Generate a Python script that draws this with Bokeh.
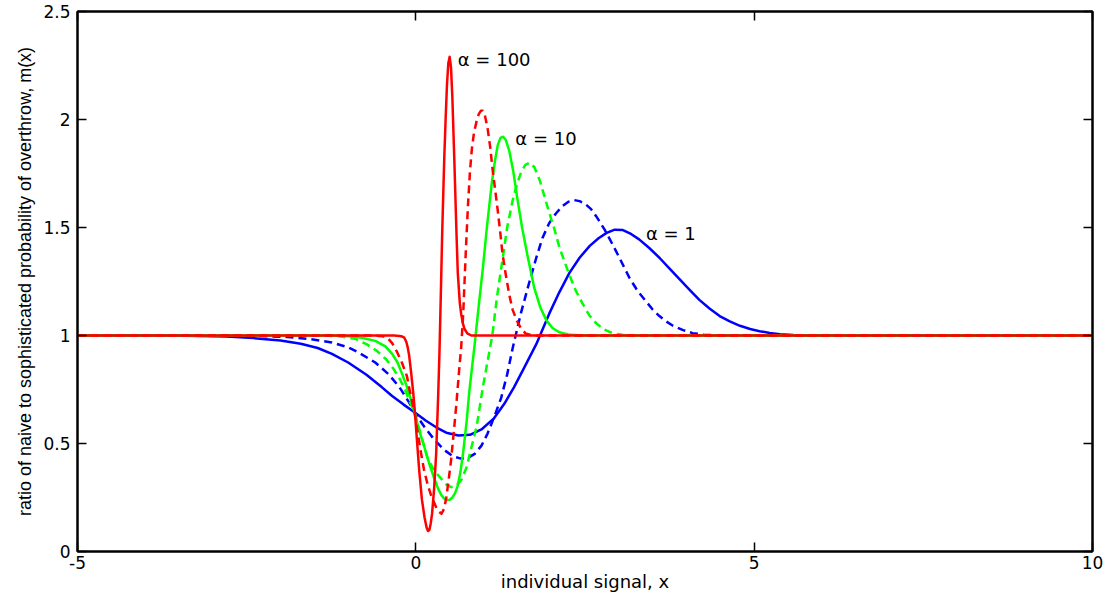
from bokeh.plotting import figure
from bokeh.models import LinearAxis, FixedTicker, PrintfTickFormatter, Label
from bokeh.embed import file_html
from bokeh.resources import INLINE

# ---- data ----
x_ticks = [-5, 0, 5, 10]
y_ticks = [0, 0.5, 1, 1.5, 2, 2.5]

# alpha = 1
a1_solid_x = [-5, -3.6, -3.2, -2.8, -2.4, -2.0, -1.7, -1.45, -1.24, -1.0, -0.73, -0.5, -0.35, -0.18, -0.02, 0.15, 0.3, 0.45, 0.63, 0.8, 0.97, 1.15, 1.31, 1.45, 1.6, 1.78, 1.97, 2.12, 2.27, 2.42, 2.57, 2.7, 2.82, 2.94, 3.06, 3.18, 3.3, 3.45, 3.6, 3.75, 3.9, 4.05, 4.19, 4.34, 4.49, 4.64, 4.79, 4.94, 5.08, 5.23, 5.38, 5.58, 5.78, 6.1, 10]
a1_solid_y = [1.0, 1.0, 0.998, 0.995, 0.988, 0.977, 0.962, 0.942, 0.915, 0.875, 0.818, 0.76, 0.72, 0.68, 0.645, 0.605, 0.575, 0.55, 0.537, 0.54, 0.565, 0.615, 0.685, 0.76, 0.85, 0.96, 1.10, 1.20, 1.29, 1.36, 1.415, 1.45, 1.475, 1.49, 1.488, 1.47, 1.445, 1.405, 1.36, 1.31, 1.26, 1.21, 1.165, 1.125, 1.09, 1.065, 1.045, 1.03, 1.02, 1.012, 1.006, 1.002, 1.0, 1.0, 1.0]
a1_dash_x = [-5, -2.6, -2.2, -1.9, -1.6, -1.24, -1.0, -0.84, -0.6, -0.4, -0.24, -0.1, -0.02, 0.13, 0.28, 0.42, 0.55, 0.67, 0.78, 0.87, 0.97, 1.06, 1.16, 1.26, 1.35, 1.43, 1.55, 1.68, 1.78, 1.87, 1.97, 2.07, 2.17, 2.26, 2.34, 2.42, 2.5, 2.59, 2.67, 2.79, 2.91, 3.0, 3.08, 3.16, 3.28, 3.41, 3.5, 3.6, 3.7, 3.8, 3.95, 4.09, 4.25, 4.45, 10]
a1_dash_y = [1.0, 1.0, 0.997, 0.993, 0.985, 0.968, 0.945, 0.92, 0.875, 0.82, 0.76, 0.69, 0.645, 0.575, 0.515, 0.47, 0.44, 0.43, 0.435, 0.452, 0.49, 0.546, 0.625, 0.71, 0.82, 0.94, 1.10, 1.25, 1.36, 1.45, 1.52, 1.565, 1.60, 1.62, 1.627, 1.622, 1.61, 1.585, 1.55, 1.49, 1.42, 1.365, 1.315, 1.265, 1.205, 1.155, 1.12, 1.09, 1.065, 1.045, 1.025, 1.011, 1.004, 1.0, 1.0]

# alpha = 10
a10_solid_x = [-5, -1.25, -1.0, -0.8, -0.6, -0.45, -0.35, -0.27, -0.2, -0.14, -0.1, -0.06, -0.02, 0.05, 0.13, 0.2, 0.27, 0.33, 0.38, 0.42, 0.46, 0.5, 0.54, 0.58, 0.62, 0.66, 0.7, 0.75, 0.79, 0.83, 0.87, 0.93, 0.99, 1.05, 1.12, 1.17, 1.21, 1.25, 1.29, 1.33, 1.38, 1.44, 1.5, 1.57, 1.65, 1.75, 1.84, 1.93, 2.02, 2.12, 2.25, 2.45, 10]
a10_solid_y = [1.0, 1.0, 0.997, 0.99, 0.975, 0.95, 0.915, 0.875, 0.82, 0.77, 0.73, 0.69, 0.645, 0.56, 0.48, 0.405, 0.34, 0.29, 0.26, 0.245, 0.238, 0.24, 0.25, 0.27, 0.305, 0.37, 0.46, 0.6, 0.74, 0.85, 0.96, 1.14, 1.31, 1.50, 1.70, 1.81, 1.88, 1.915, 1.92, 1.905, 1.856, 1.76, 1.635, 1.5, 1.37, 1.22, 1.13, 1.07, 1.035, 1.015, 1.005, 1.0, 1.0]
a10_dash_x = [-5, -1.4, -1.13, -0.9, -0.73, -0.58, -0.44, -0.34, -0.24, -0.16, -0.1, -0.02, 0.08, 0.17, 0.27, 0.38, 0.45, 0.52, 0.6, 0.68, 0.75, 0.82, 0.9, 0.99, 1.06, 1.13, 1.2, 1.28, 1.35, 1.43, 1.5, 1.56, 1.62, 1.68, 1.75, 1.83, 1.9, 1.97, 2.05, 2.12, 2.2, 2.27, 2.36, 2.46, 2.56, 2.67, 2.79, 2.91, 3.05, 3.25, 10]
a10_dash_y = [1.0, 1.0, 0.997, 0.985, 0.96, 0.93, 0.89, 0.85, 0.80, 0.75, 0.70, 0.645, 0.535, 0.435, 0.375, 0.335, 0.31, 0.298, 0.305, 0.335, 0.39, 0.48, 0.58, 0.76, 0.88, 1.0, 1.18, 1.35, 1.50, 1.625, 1.705, 1.76, 1.79, 1.80, 1.78, 1.72, 1.645, 1.57, 1.49, 1.41, 1.34, 1.28, 1.21, 1.15, 1.095, 1.055, 1.027, 1.01, 1.003, 1.0, 1.0]

# alpha = 100
a100_solid_x = [-5, -0.32, -0.24, -0.2, -0.17, -0.14, -0.12, -0.1, -0.07, -0.04, -0.02, 0.02, 0.05, 0.09, 0.13, 0.16, 0.18, 0.2, 0.22, 0.24, 0.27, 0.3, 0.33, 0.35, 0.37, 0.39, 0.42, 0.44, 0.46, 0.48, 0.5, 0.52, 0.54, 0.57, 0.6, 0.62, 0.65, 0.67, 0.7, 0.72, 0.76, 0.82, 10]
a100_solid_y = [1.0, 1.0, 0.998, 0.995, 0.99, 0.97, 0.945, 0.91, 0.83, 0.74, 0.67, 0.5, 0.375, 0.24, 0.155, 0.11, 0.095, 0.1, 0.13, 0.175, 0.29, 0.45, 0.72, 0.93, 1.2, 1.48, 1.82, 2.0, 2.16, 2.26, 2.29, 2.24, 2.1, 1.8, 1.48, 1.29, 1.15, 1.10, 1.05, 1.03, 1.01, 1.0, 1.0]
a100_dash_x = [-5, -0.65, -0.5, -0.42, -0.35, -0.28, -0.2, -0.13, -0.1, -0.06, -0.02, 0.03, 0.08, 0.12, 0.17, 0.23, 0.3, 0.34, 0.38, 0.42, 0.45, 0.48, 0.52, 0.56, 0.6, 0.64, 0.67, 0.70, 0.74, 0.77, 0.8, 0.83, 0.86, 0.9, 0.93, 0.96, 0.99, 1.02, 1.06, 1.1, 1.13, 1.17, 1.21, 1.25, 1.28, 1.33, 1.38, 1.43, 1.49, 1.55, 1.62, 1.72, 10]
a100_dash_y = [1.0, 1.0, 0.997, 0.99, 0.965, 0.925, 0.87, 0.81, 0.76, 0.70, 0.645, 0.545, 0.45, 0.38, 0.315, 0.255, 0.205, 0.185, 0.175, 0.2, 0.25, 0.32, 0.42, 0.55, 0.685, 0.84, 0.945, 1.1, 1.4, 1.6, 1.76, 1.87, 1.94, 1.995, 2.025, 2.04, 2.04, 2.02, 1.96, 1.87, 1.78, 1.68, 1.58, 1.47, 1.38, 1.28, 1.19, 1.12, 1.07, 1.035, 1.01, 1.0, 1.0]

label_text = ["\u03b1 = 100", "\u03b1 = 10", "\u03b1 = 1"]
label_x = [0.62, 1.47, 3.4]
label_y = [2.28, 1.91, 1.47]

FONT = "DejaVu Sans"

p = figure(width=1109, height=595, x_range=(-5, 10), y_range=(0, 2.5),
           output_backend="svg", toolbar_location=None,
           min_border_left=77, min_border_right=17, min_border_top=11, min_border_bottom=44)
p.grid.visible = False
p.outline_line_color = "black"
p.outline_line_width = 2
p.background_fill_color = "white"

series = [
    (a1_dash_x, a1_dash_y, "#0000ff", "8 5"),
    (a1_solid_x, a1_solid_y, "#0000ff", "solid"),
    (a10_dash_x, a10_dash_y, "#00ff00", "8 5"),
    (a10_solid_x, a10_solid_y, "#00ff00", "solid"),
    (a100_dash_x, a100_dash_y, "#ff0000", "8 5"),
    (a100_solid_x, a100_solid_y, "#ff0000", "solid"),
]
for xs, ys, c, d in series:
    p.line(xs, ys, line_color=c, line_width=2.5, line_dash=d, line_join="round")

for t, lx, ly in zip(label_text, label_x, label_y):
    p.add_layout(Label(x=lx, y=ly, text=t, text_font=FONT, text_font_size="18px",
                       text_baseline="middle", text_align="left", text_color="black"))

fmt = PrintfTickFormatter(format="%g")
for ax in (p.xaxis[0], p.yaxis[0]):
    ax.formatter = fmt
    ax.major_tick_in = 9
    ax.major_tick_out = 0
    ax.minor_tick_line_color = None
    ax.axis_line_width = 2
    ax.major_tick_line_width = 1.5
    ax.major_label_text_font = FONT
    ax.major_label_text_font_size = "17px"
    ax.major_label_text_color = "black"
    ax.axis_label_text_font_style = "normal"
    ax.axis_label_text_color = "black"
p.xaxis.ticker = FixedTicker(ticks=x_ticks)
p.yaxis.ticker = FixedTicker(ticks=y_ticks)
p.xaxis.major_label_standoff = 4
p.xaxis.axis_label_standoff = -1
p.xaxis.axis_label_text_font = FONT
p.xaxis.axis_label_text_font_size = "18px"
p.yaxis.major_label_standoff = 7
p.yaxis.axis_label_standoff = 5
p.yaxis.axis_label_text_font = "Liberation Sans"
p.yaxis.axis_label_text_font_size = "18px"
p.xaxis.axis_label = "individual signal, x"
p.yaxis.axis_label = "ratio of naive to sophisticated probability of overthrow, m(x)"

# mirrored tick marks on the top and right edges (no labels)
for loc, tk in (("above", x_ticks), ("right", y_ticks)):
    ax = LinearAxis(ticker=FixedTicker(ticks=tk), major_label_text_font_size="0px",
                    major_label_text_color=None,
                    major_tick_in=9, major_tick_out=0, minor_tick_line_color=None,
                    axis_line_width=2, major_tick_line_width=1.5, major_label_standoff=0)
    p.add_layout(ax, loc)

open("out.html", "w").write(file_html(p, INLINE))
